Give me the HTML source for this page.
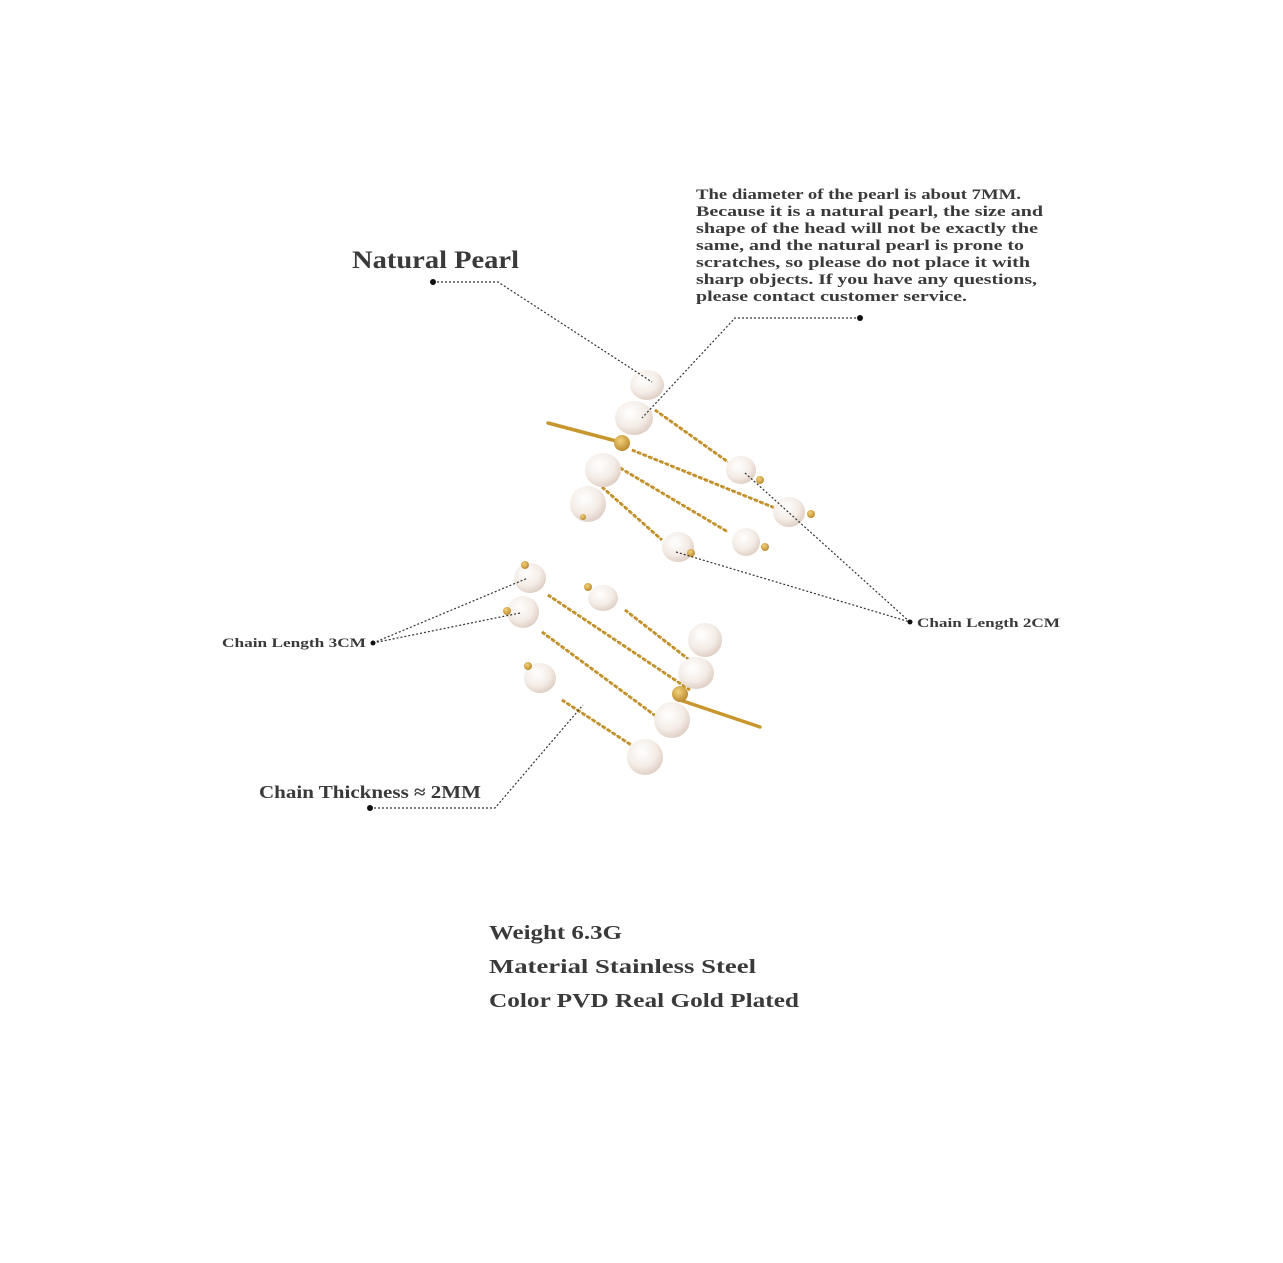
<!DOCTYPE html>
<html><head><meta charset="utf-8"><style>
html,body{margin:0;padding:0;background:#fff;}
svg{display:block;}
text{font-family:"Liberation Serif",serif;font-weight:bold;fill:#3a3a3a;}
</style></head><body>
<svg width="1283" height="1263" viewBox="0 0 1283 1263" xmlns="http://www.w3.org/2000/svg">
<defs>
<radialGradient id="pearl" cx="40%" cy="35%" r="70%">
<stop offset="0" stop-color="#ffffff"/><stop offset="0.6" stop-color="#f4ece6"/><stop offset="1" stop-color="#dccbc0"/>
</radialGradient>
<radialGradient id="gold" cx="40%" cy="35%" r="70%">
<stop offset="0" stop-color="#f2d27a"/><stop offset="1" stop-color="#b8852a"/>
</radialGradient>
</defs>
<rect width="1283" height="1263" fill="#fff"/>

<g stroke="#c8962e" fill="none">
<line x1="548" y1="423" x2="620" y2="442" stroke-width="3.5" stroke-linecap="round"/>
<line x1="680" y1="700" x2="760" y2="727" stroke-width="3.5" stroke-linecap="round"/>
<g stroke-width="3" stroke-dasharray="4 2" stroke-linecap="butt">
<line x1="655" y1="410" x2="728" y2="462"/>
<line x1="632" y1="450" x2="775" y2="508"/>
<line x1="615" y1="465" x2="728" y2="532"/>
<line x1="602" y1="487" x2="662" y2="540"/>
<line x1="548" y1="595" x2="690" y2="690"/>
<line x1="625" y1="610" x2="692" y2="662"/>
<line x1="542" y1="632" x2="672" y2="728"/>
<line x1="562" y1="700" x2="642" y2="752"/>
</g>
<g stroke-width="1.5" stroke="#b07f22" stroke-dasharray="2 4" stroke-dashoffset="1">
<line x1="655" y1="410" x2="728" y2="462"/>
<line x1="632" y1="450" x2="775" y2="508"/>
<line x1="615" y1="465" x2="728" y2="532"/>
<line x1="602" y1="487" x2="662" y2="540"/>
<line x1="548" y1="595" x2="690" y2="690"/>
<line x1="625" y1="610" x2="692" y2="662"/>
<line x1="542" y1="632" x2="672" y2="728"/>
<line x1="562" y1="700" x2="642" y2="752"/>
</g>
</g>
<g fill="url(#pearl)">
<ellipse cx="647" cy="385" rx="17" ry="15"/>
<ellipse cx="634" cy="418" rx="19" ry="17"/>
<ellipse cx="603" cy="470" rx="18" ry="17"/>
<ellipse cx="588" cy="504" rx="18" ry="18"/>
<ellipse cx="678" cy="547" rx="16" ry="15"/>
<ellipse cx="741" cy="470" rx="15" ry="14"/>
<ellipse cx="789" cy="512" rx="16" ry="15"/>
<ellipse cx="746" cy="542" rx="14" ry="14"/>
<ellipse cx="530" cy="578" rx="16" ry="15"/>
<ellipse cx="523" cy="612" rx="16" ry="16"/>
<ellipse cx="603" cy="598" rx="15" ry="13"/>
<ellipse cx="705" cy="640" rx="17" ry="17"/>
<ellipse cx="696" cy="673" rx="18" ry="16"/>
<ellipse cx="672" cy="720" rx="18" ry="18"/>
<ellipse cx="645" cy="757" rx="18" ry="18"/>
<ellipse cx="540" cy="678" rx="16" ry="15"/>
</g>
<g fill="url(#gold)">
<circle cx="622" cy="443" r="8"/>
<circle cx="760" cy="480" r="4"/>
<circle cx="811" cy="514" r="4"/>
<circle cx="765" cy="547" r="4"/>
<circle cx="691" cy="553" r="4"/>
<circle cx="583" cy="517" r="3"/>
<circle cx="525" cy="565" r="4"/>
<circle cx="507" cy="611" r="4"/>
<circle cx="588" cy="587" r="4"/>
<circle cx="528" cy="666" r="4"/>
<circle cx="680" cy="694" r="8"/>
</g>

<g stroke="#333" stroke-width="1.2" fill="none" stroke-dasharray="2 2">
<polyline points="433,282 498,282 652,382"/>
<polyline points="860,318 735,318 642,418"/>
<line x1="745" y1="473" x2="910" y2="622"/>
<line x1="676" y1="552" x2="910" y2="622"/>
<line x1="373" y1="643" x2="528" y2="578"/>
<line x1="373" y1="643" x2="520" y2="613"/>
<polyline points="370,808 495,808 583,705"/>
</g>
<g fill="#111">
<circle cx="433" cy="282" r="3"/>
<circle cx="860" cy="318" r="3"/>
<circle cx="910" cy="622" r="2.5"/>
<circle cx="373" cy="643" r="2.5"/>
<circle cx="370" cy="808" r="3"/>
</g>

<text x="352" y="268" font-size="25" textLength="167" lengthAdjust="spacingAndGlyphs">Natural Pearl</text>
<g font-size="14.5">
<text x="696" y="199" textLength="325" lengthAdjust="spacingAndGlyphs">The diameter of the pearl is about 7MM.</text>
<text x="696" y="216" textLength="347" lengthAdjust="spacingAndGlyphs">Because it is a natural pearl, the size and</text>
<text x="696" y="233" textLength="342" lengthAdjust="spacingAndGlyphs">shape of the head will not be exactly the</text>
<text x="696" y="250" textLength="328" lengthAdjust="spacingAndGlyphs">same, and the natural pearl is prone to</text>
<text x="696" y="267" textLength="334" lengthAdjust="spacingAndGlyphs">scratches, so please do not place it with</text>
<text x="696" y="284" textLength="341" lengthAdjust="spacingAndGlyphs">sharp objects. If you have any questions,</text>
<text x="696" y="301" textLength="271" lengthAdjust="spacingAndGlyphs">please contact customer service.</text>
</g>
<text x="222" y="647" font-size="13" textLength="144" lengthAdjust="spacingAndGlyphs">Chain Length 3CM</text>
<text x="917" y="627" font-size="13" textLength="143" lengthAdjust="spacingAndGlyphs">Chain Length 2CM</text>
<text x="259" y="798" font-size="18" textLength="222" lengthAdjust="spacingAndGlyphs">Chain Thickness ≈ 2MM</text>
<g font-size="20">
<text x="489" y="939" textLength="133" lengthAdjust="spacingAndGlyphs">Weight 6.3G</text>
<text x="489" y="973" textLength="267" lengthAdjust="spacingAndGlyphs">Material Stainless Steel</text>
<text x="489" y="1007" textLength="310" lengthAdjust="spacingAndGlyphs">Color PVD Real Gold Plated</text>
</g>
</svg>
</body></html>
